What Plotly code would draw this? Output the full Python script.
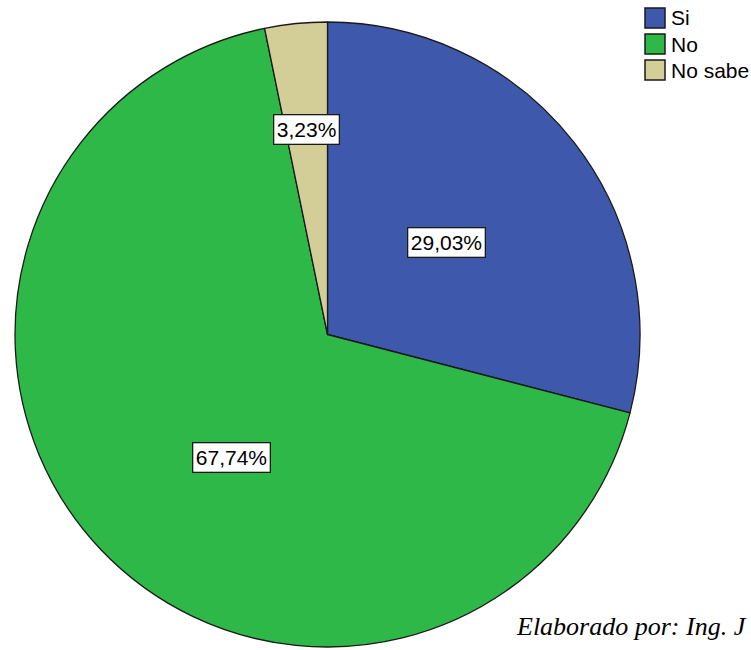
import math
import plotly.graph_objects as go

# Survey responses (counts) and their share labels
categories = ["Si", "No", "No sabe"]
counts = [9, 21, 1]
pct_labels = ["29,03%", "67,74%", "3,23%"]
colors = ["#3E58AC", "#2EB848", "#D3CE97"]

W, H = 751, 650

# pie placement in pixels (domain)
PIE_LEFT, PIE_RIGHT, PIE_TOP, PIE_BOTTOM = 13, 642, 22, 647
cx = (PIE_LEFT + PIE_RIGHT) / 2
cy = (PIE_TOP + PIE_BOTTOM) / 2
radius = min(PIE_RIGHT - PIE_LEFT, PIE_BOTTOM - PIE_TOP) / 2

# label radial fraction and angular nudge (degrees) per slice
LABEL_R = [0.48, 0.50, 0.66]
LABEL_NUDGE = [0.0, -8.5, 0.0]

fig = go.Figure()
fig.add_trace(go.Pie(
    labels=categories,
    values=counts,
    sort=False,
    direction="clockwise",
    rotation=0,
    marker=dict(colors=colors, line=dict(color="#1a1a1a", width=1.3)),
    textinfo="none",
    hoverinfo="label+percent",
    showlegend=False,
    domain=dict(x=[PIE_LEFT / W, PIE_RIGHT / W],
                y=[1 - PIE_BOTTOM / H, 1 - PIE_TOP / H]),
))

annotations = []
total = sum(counts)
cum = 0
for i, (v, lab) in enumerate(zip(counts, pct_labels)):
    mid = (cum + v / 2) / total * 360 + LABEL_NUDGE[i]
    cum += v
    r = radius * LABEL_R[i]
    px = cx + r * math.sin(math.radians(mid))
    py = cy - r * math.cos(math.radians(mid))
    annotations.append(dict(
        x=px / W, y=1 - py / H, xref="paper", yref="paper",
        text=lab, showarrow=False,
        font=dict(family="Liberation Sans, Arial", size=21, color="#000"),
        bgcolor="white", bordercolor="#1a1a1a", borderwidth=1.3, borderpad=2.5,
        xanchor="center", yanchor="middle",
    ))

# legend: swatches and names
shapes = []
LEG_X0, LEG_SIZE, LEG_TOP, LEG_STEP = 645, 20, 8, 26
for i, (name, col) in enumerate(zip(categories, colors)):
    y0 = LEG_TOP + i * LEG_STEP
    shapes.append(dict(
        type="rect", xref="paper", yref="paper",
        x0=LEG_X0 / W, x1=(LEG_X0 + LEG_SIZE) / W,
        y0=1 - (y0 + LEG_SIZE) / H, y1=1 - y0 / H,
        fillcolor=col, line=dict(color="#1a1a1a", width=1.5),
    ))
    annotations.append(dict(
        x=(LEG_X0 + LEG_SIZE + 4) / W, y=1 - (y0 + LEG_SIZE / 2) / H,
        xref="paper", yref="paper", text=name, showarrow=False,
        font=dict(family="Liberation Sans, Arial", size=21, color="#000"),
        xanchor="left", yanchor="middle",
    ))

# source note
annotations.append(dict(
    x=514 / W, y=1 - 626 / H, xref="paper", yref="paper",
    text="<i>Elaborado por: Ing. J</i>", showarrow=False,
    font=dict(family="Liberation Serif, Times New Roman", size=26, color="#000"),
    xanchor="left", yanchor="middle",
))

fig.update_layout(
    width=W, height=H,
    margin=dict(l=0, r=0, t=0, b=0),
    paper_bgcolor="white", plot_bgcolor="white",
    annotations=annotations, shapes=shapes,
)

fig.write_html("out.html")
